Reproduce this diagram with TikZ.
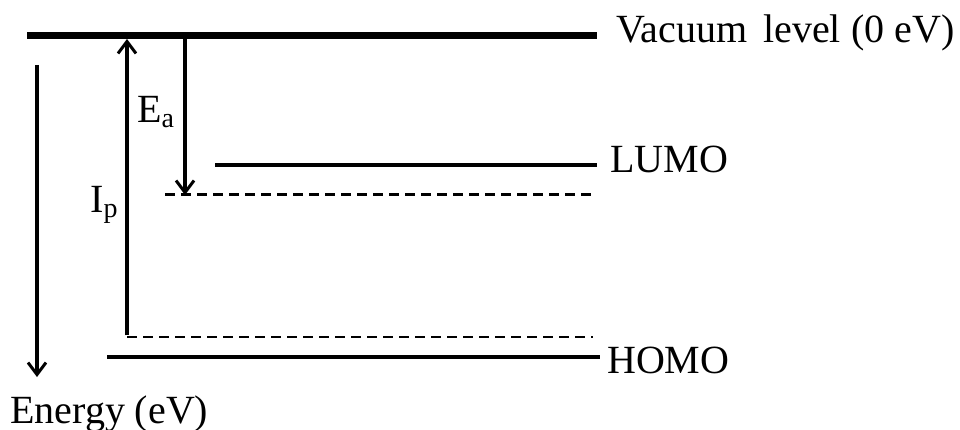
\documentclass[tikz,border=0pt]{standalone}
\usepackage{fontspec}
\setmainfont{Liberation Serif}
\usetikzlibrary{arrows.meta}
\begin{document}
\begin{tikzpicture}[x=1pt,y=-1pt,
  lbl/.style={anchor=base west,inner sep=0pt,font=\fontsize{40}{48}\selectfont},
  vac/.style={line width=7pt},
  level/.style={line width=3.5pt},
  shifted/.style={line width=2.5pt,dash pattern=on 10pt off 6pt},
  energyarrow/.style={line width=3.2pt,-{Straight Barb[length=12pt,width=18pt,line width=3pt]}}]
\useasboundingbox (0,0) rectangle (960,430);

% energy levels
\coordinate (vacL) at (27,35.5);
\coordinate (vacR) at (597,35.5);
\coordinate (lumoL) at (215,165);
\coordinate (lumoR) at (597,165);
\coordinate (eaL) at (165,194.5);
\coordinate (eaR) at (595,194.5);
\coordinate (ipL) at (127,337);
\coordinate (ipR) at (593,337);
\coordinate (homoL) at (107,357);
\coordinate (homoR) at (600,357);

\draw[vac] (vacL) -- (vacR);
\draw[level] (lumoL) -- (lumoR);
\draw[level] (homoL) -- (homoR);
\draw[shifted] (eaL) -- (eaR);
\draw[shifted] (ipL) -- (ipR);

% labels of the levels
\node[lbl] (vaclbl) at (616,43) {Vacuum\hspace{6pt} level (0 eV)};
\node[lbl] (lumolbl) at (610,173) {LUMO};
\node[lbl] (homolbl) at (607,373) {HOMO};
\node[lbl] (energylbl) at (10,423) {Energy (eV)};

% energy axis
\coordinate (axTop) at (37,65);
\coordinate (axBot) at (37,377);
\draw[energyarrow] (axTop) -- (axBot);

% ionisation potential
\coordinate (ipTop) at (127,39);
\draw[energyarrow] ([yshift=1.6pt]ipL) -- (ipTop);
\node[lbl] (iplbl) at (90,213) {I\textsubscript{p}};

% electron affinity
\coordinate (eaTop) at (185,39);
\coordinate (eaBot) at (185,195);
\draw[energyarrow] (eaTop) -- (eaBot);
\node[lbl] (ealbl) at (137,123) {E\textsubscript{a}};
\end{tikzpicture}
\end{document}
